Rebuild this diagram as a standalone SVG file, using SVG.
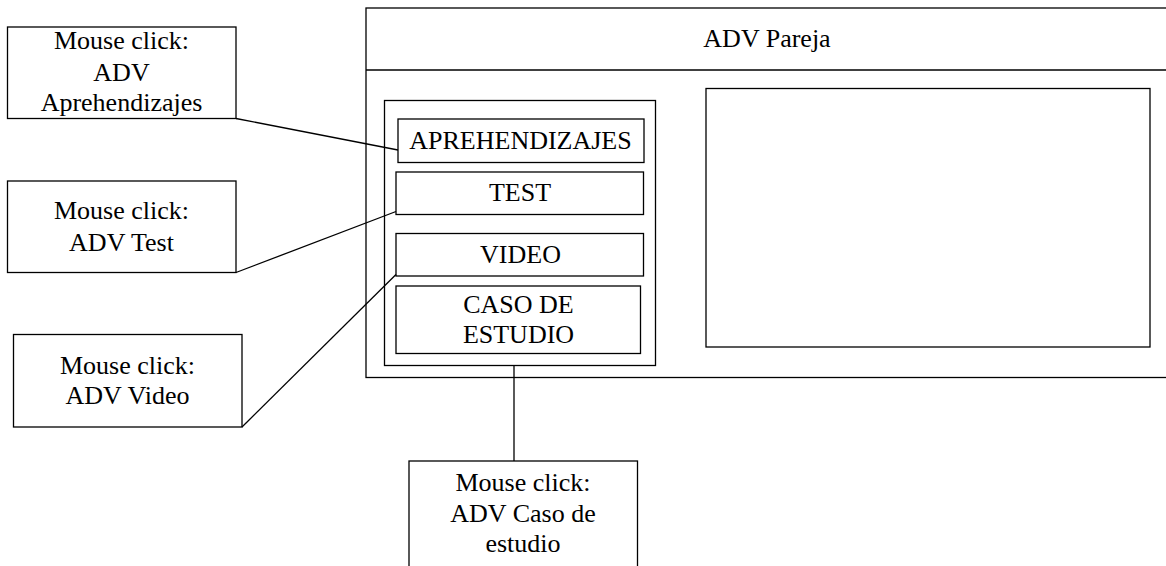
<svg xmlns="http://www.w3.org/2000/svg" width="1166" height="566" viewBox="0 0 1166 566">
<style>
rect{fill:#fff;stroke:#000;stroke-width:1.3}
.ln{stroke:#000;stroke-width:1.3;fill:none}
text{font-family:"Liberation Serif","Times New Roman",serif;font-size:26px;fill:#000;text-anchor:middle}
</style>
<rect width="1166" height="566" style="stroke:none"/>
<g id="main">
<rect x="366" y="8" width="810" height="369.5"/>
<line class="ln" x1="366" y1="70" x2="1166" y2="70"/>
<text x="767" y="47">ADV Pareja</text>
</g>
<g id="display"><rect x="706" y="88.5" width="444" height="258.5"/></g>
<g id="menu"><rect x="384.5" y="100.5" width="271" height="265"/></g>
<g id="btn-aprehendizajes"><rect x="398" y="119" width="246" height="43.5"/><text x="520.5" y="148.5">APREHENDIZAJES</text></g>
<g id="btn-test"><rect x="396" y="172" width="247.5" height="42.5"/><text x="520" y="201">TEST</text></g>
<g id="btn-video"><rect x="396" y="233.5" width="247.5" height="42.5"/><text x="520.5" y="262.5">VIDEO</text></g>
<g id="btn-caso"><rect x="396" y="286" width="244.5" height="67.5"/><text x="518.5" y="312.5">CASO DE</text><text x="518.5" y="342.5">ESTUDIO</text></g>
<g id="note-aprehendizajes"><rect x="7.5" y="27" width="228.5" height="91.5"/><text x="121.5" y="48.5">Mouse click:</text><text x="121.5" y="80.5">ADV</text><text x="121.5" y="110.5">Aprehendizajes</text></g>
<g id="note-test"><rect x="7.5" y="181" width="228.5" height="91.5"/><text x="121.5" y="218.5">Mouse click:</text><text x="121.5" y="251">ADV Test</text></g>
<g id="note-video"><rect x="13.5" y="334.5" width="228.5" height="92.5"/><text x="127.5" y="373.5">Mouse click:</text><text x="127.5" y="403.5">ADV Video</text></g>
<g id="note-caso"><rect x="409" y="461" width="228.5" height="110"/><text x="523" y="491">Mouse click:</text><text x="523" y="522">ADV Caso de</text><text x="523" y="552">estudio</text></g>
<g id="connectors">
<line class="ln" x1="236" y1="118.5" x2="398" y2="150"/>
<line class="ln" x1="236" y1="272.5" x2="396" y2="211.5"/>
<line class="ln" x1="242" y1="427" x2="396" y2="274.5"/>
<line class="ln" x1="514" y1="366" x2="514" y2="461"/>
</g>
</svg>
